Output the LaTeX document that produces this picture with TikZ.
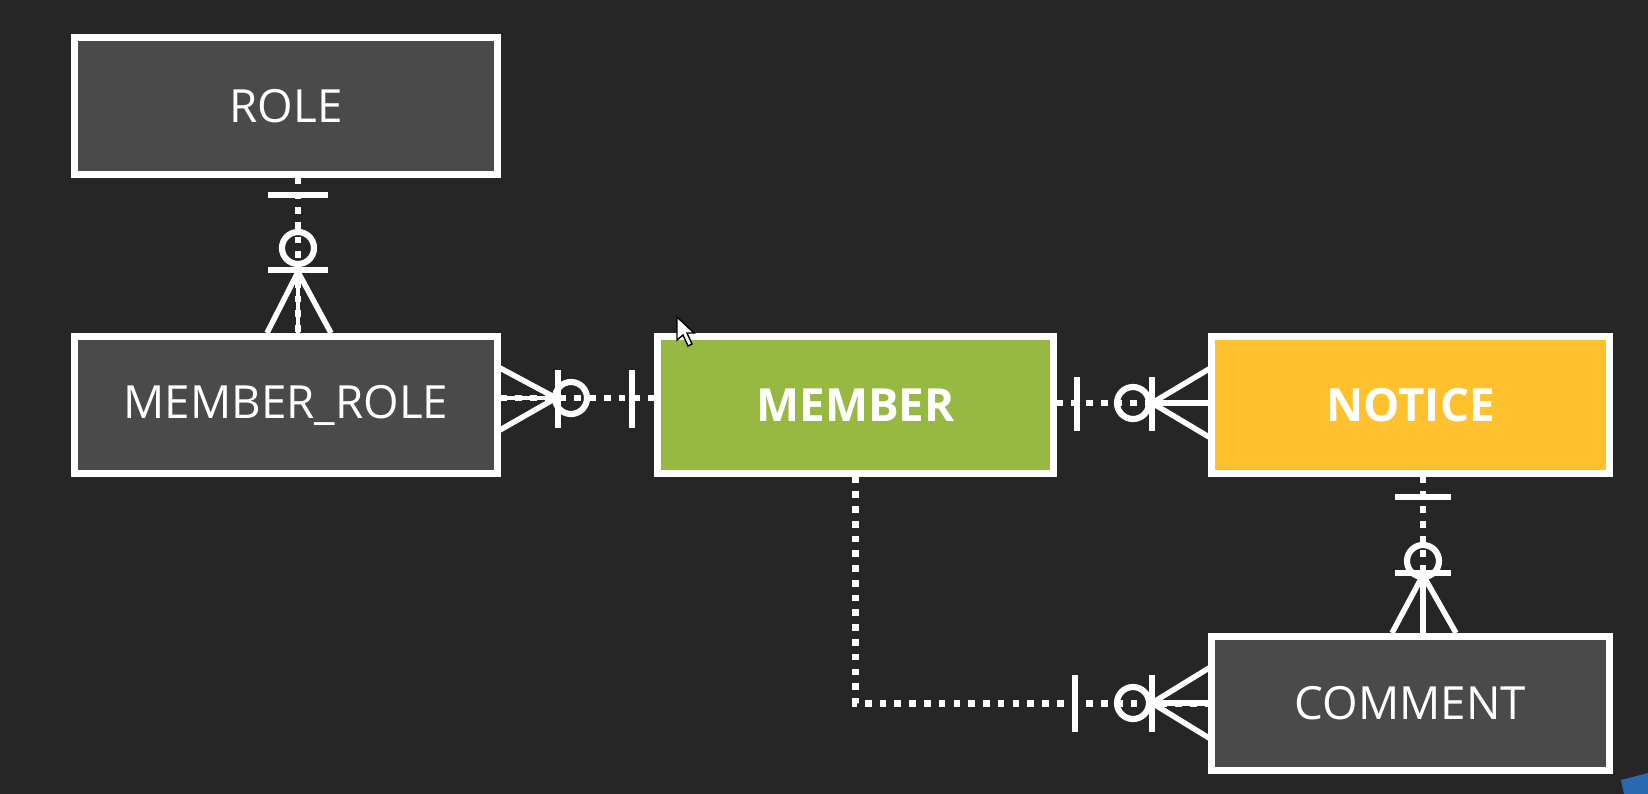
\documentclass[tikz,border=0pt]{standalone}
\usepackage{fontspec}
\setmainfont{Open Sans}
\usetikzlibrary{calc}
\definecolor{bg}{RGB}{38,38,38}
\definecolor{boxgray}{RGB}{74,74,74}
\definecolor{mgreen}{RGB}{151,185,66}
\definecolor{nyellow}{RGB}{255,194,46}
\definecolor{tblue}{RGB}{40,105,175}
\tikzset{
  erbox/.style={draw=white, line width=2pt, inner sep=0pt, text=white,
    minimum width=4.22cm, minimum height=1.36cm,
    font=\fontsize{13}{15}\selectfont},
  dotline/.style={draw=white, line width=1.9pt, dash pattern=on 1.9pt off 2.3pt},
  erbar/.style={draw=white, line width=1.75pt},
  erfoot/.style={draw=white, line width=1.55pt},
}
\begin{document}
\begin{tikzpicture}[x=0.01cm, y=-0.01cm]
\fill[bg] (0,0) rectangle (1648,794);
\useasboundingbox (0,0) rectangle (1648,794);
% taskbar remnant
\fill[tblue] (1621,780) -- (1648,773) -- (1648,794) -- (1624,794) -- cycle;

% entities
\node[erbox, fill=boxgray] (role) at (286,106) {ROLE};
\node[erbox, fill=boxgray] (mrole) at (286,405) {MEMBER\_ROLE};
\node[erbox, fill=mgreen, minimum width=3.95cm, font=\fontsize{13}{15}\selectfont\bfseries] (member) at (855.5,405) {MEMBER};
\node[erbox, fill=nyellow, minimum width=3.97cm, font=\fontsize{13}{15}\selectfont\bfseries] (notice) at (1410.5,405) {NOTICE};
\node[erbox, fill=boxgray, minimum width=3.97cm, minimum height=1.33cm] (comment) at (1410.5,703.5) {COMMENT};

% connector ROLE - MEMBER_ROLE
\draw[dotline] ($(role.south)+(12,0)$) -- ($(mrole.north)+(12,0)$);
\draw[erbar] (268,195) -- (328,195);
\draw[erbar] (298,248) circle[radius=0.16cm];
\draw[erbar] (268,270) -- (328,270);
\draw[erfoot] (267,333) -- (298,272) -- (331,333);
\draw[white, line width=1pt] (298,272) -- (298,333);

% connector MEMBER_ROLE - MEMBER
\draw[dotline] ($(mrole.east)+(0,-7)$) -- ($(member.west)+(0,-7)$);
\draw[erfoot] (500,368) -- (556,398) -- (500,430);
\draw[white, line width=1pt] (500,398) -- (556,398);
\draw[erbar] (558,370) -- (558,428);
\draw[erbar] (571,398) circle[radius=0.16cm];
\draw[erbar] (632,370) -- (632,428);

% connector MEMBER - NOTICE
\draw[dotline] ($(member.east)+(0,-2)$) -- ($(notice.west)+(0,-2)$);
\draw[erbar] (1077,377) -- (1077,431);
\draw[erbar] (1133,403) circle[radius=0.16cm];
\draw[erbar] (1152,377) -- (1152,431);
\draw[erfoot] (1209,369) -- (1152,403) -- (1209,437);
\draw[erfoot] (1152,403) -- (1209,403);

% connector NOTICE - COMMENT
\draw[dotline] ($(notice.south)+(12.5,0)$) -- ($(comment.north)+(12.5,0)$);
\draw[erbar] (1395,497) -- (1451,497);
\draw[erbar] (1423,561) circle[radius=0.16cm];
\draw[erbar] (1395,573) -- (1451,573);
\draw[erfoot] (1392,633) -- (1423,575) -- (1456,633);
\draw[erfoot] (1423,575) -- (1423,633);

% connector MEMBER - COMMENT
\coordinate (bend) at ($(member.south |- comment.west)$);
\draw[dotline] (member.south) -- (bend) -- (comment.west);
\draw[erbar] (1075,675) -- (1075,732);
\draw[erbar] (1133,703) circle[radius=0.16cm];
\draw[erbar] (1152,675) -- (1152,732);
\draw[erfoot] (1209,668) -- (1152,703) -- (1209,738);
\draw[erfoot] (1152,703) -- (1209,703);

% mouse pointer
\filldraw[fill=white, draw=black, line width=0.4pt]
  (677,317) -- (677,340) -- (683,335) -- (688,346) -- (692,344) -- (687,333) -- (694,333) -- cycle;
\end{tikzpicture}
\end{document}
